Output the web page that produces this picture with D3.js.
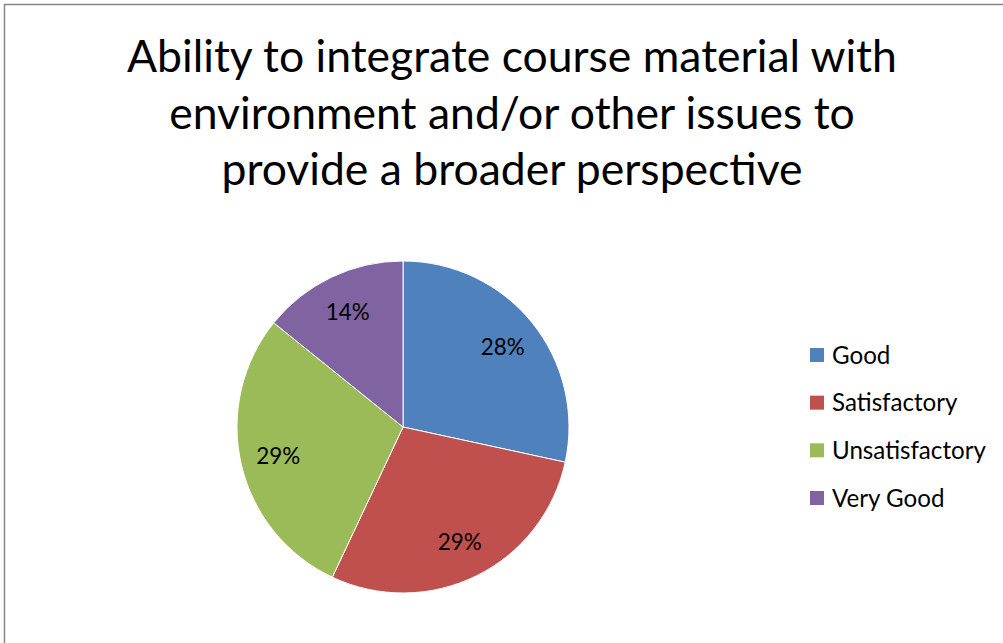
<!DOCTYPE html>
<html>
<head>
<meta charset="utf-8">
<script src="https://cdn.jsdelivr.net/npm/d3@7"></script>
<style>
html,body{margin:0;padding:0;background:#fff;}
svg{display:block;}
</style>
</head>
<body>
<script>
const categories = ["Good", "Satisfactory", "Unsatisfactory", "Very Good"];
const values = [28.4, 28.6, 28.8, 14.2];
const colors = ["#4F81BD", "#C0504D", "#9BBB59", "#8064A2"];
const titleLines = ["Ability to integrate course material with", "environment and/or other issues to", "provide a broader perspective"];

const W = 1003, H = 643;
const FONT = "Lato, 'Open Sans', sans-serif";
const svg = d3.select("body").append("svg").attr("width", W).attr("height", H);

// frame
svg.append("path").attr("d", `M4.5,${H} L4.5,4.5 L${W},4.5`)
  .attr("fill", "none").attr("stroke", "#868686").attr("stroke-width", 1.5);

// title
const title = svg.append("g");
const baselines = [72, 128.5, 185];
const tl = title.selectAll("text").data(titleLines).join("text")
  .attr("x", 512).attr("y", (d, i) => baselines[i])
  .attr("text-anchor", "middle").attr("font-family", FONT)
  .attr("font-size", 40).attr("fill", "#000").text(d => d);
const w0 = tl.nodes()[0].getComputedTextLength();
tl.attr("font-size", 40 * 770 / w0);

// pie
const cx = 403, cy = 427, R = 166;
const pie = d3.pie().value(d => d).sort(null);
const arcs = pie(values);
const arc = d3.arc().innerRadius(0).outerRadius(R);
const labelArc = d3.arc().innerRadius(128).outerRadius(128);
const total = d3.sum(values);
const g = svg.append("g").attr("transform", `translate(${cx},${cy})`);
g.selectAll("path").data(arcs).join("path")
  .attr("d", arc).attr("fill", (d, i) => colors[i])
  .attr("stroke", "#fff").attr("stroke-width", 1);
const lbl = g.selectAll("text").data(arcs).join("text")
  .attr("transform", d => `translate(${labelArc.centroid(d)})`)
  .attr("text-anchor", "middle").attr("dy", "0.36em")
  .attr("font-family", FONT).attr("font-size", 20).attr("fill", "#000")
  .text(d => Math.round(d.data / total * 100) + "%");
const lw = lbl.nodes()[0].getComputedTextLength();
lbl.attr("font-size", 20 * 44 / lw);

// legend
const legendY = d3.scalePoint().domain(categories).range([355, 498]);
const lg = svg.append("g");
const item = lg.selectAll("g").data(categories).join("g")
  .attr("transform", d => `translate(810,${legendY(d)})`);
item.append("rect").attr("x", 0).attr("y", -7).attr("width", 14).attr("height", 14)
  .attr("fill", (d, i) => colors[i]);
const lt = item.append("text").attr("x", 22).attr("dy", "0.36em")
  .attr("font-family", FONT).attr("font-size", 21).attr("fill", "#000").text(d => d);
const uw = lt.nodes()[2].getComputedTextLength();
lt.attr("font-size", 21 * 154 / uw);
</script>
</body>
</html>
